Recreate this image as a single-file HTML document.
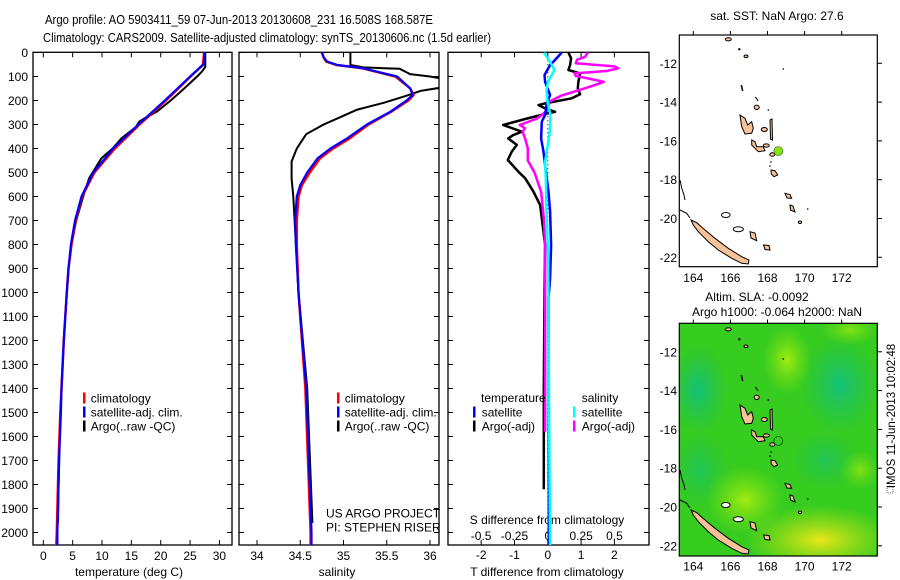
<!DOCTYPE html>
<html><head><meta charset="utf-8"><style>
html,body{margin:0;padding:0;background:#fff}
svg{display:block;font-family:"Liberation Sans",Arial,sans-serif}
text{fill:#000}
</style></head><body>
<svg id="fig" width="900" height="580" viewBox="0 0 900 580" xmlns="http://www.w3.org/2000/svg">
<defs>
<radialGradient id="gTeal" cx="0.5" cy="0.5" r="0.5"><stop offset="0" stop-color="#10c080" stop-opacity="0.95"/><stop offset="1" stop-color="#20c060" stop-opacity="0"/></radialGradient>
<radialGradient id="gLime" cx="0.5" cy="0.5" r="0.5"><stop offset="0" stop-color="#a8ee10" stop-opacity="0.95"/><stop offset="1" stop-color="#80e010" stop-opacity="0"/></radialGradient>
<radialGradient id="gYel" cx="0.5" cy="0.5" r="0.5"><stop offset="0" stop-color="#e8e818" stop-opacity="1"/><stop offset="1" stop-color="#c0e010" stop-opacity="0"/></radialGradient>
<clipPath id="map2clip"><rect x="679.3" y="323.3" width="198" height="232.7"/></clipPath>
<g id="islands">
<polygon points="691,220 696.7,222.7 705,230 715,238.3 728.3,248.3 741.7,256.7 749,260 748.3,264 741.7,263.3 731.7,258.3 718.3,250 708.3,241.7 698.3,231.7 693.3,225" fill="#f7c298" stroke="#000" stroke-width="1"/>
<polygon points="740,115 745,118.3 747.7,125 751.7,121.7 753.3,128.3 751.7,133.3 745,134 741.7,126.7" fill="#f7c298" stroke="#000" stroke-width="1"/>
<polygon points="751.7,140 755,141.7 756.7,146.7 763.3,146.7 765,150.7 758.3,151.7 755,148.3 751.7,145" fill="#f7c298" stroke="#000" stroke-width="1"/>
<polygon points="771,170 775,170.7 777.7,175 774,176.7 771.3,174" fill="#f7c298" stroke="#000" stroke-width="1"/>
<polygon points="785,193.3 790,194.5 791.7,198.3 787,198" fill="#f7c298" stroke="#000" stroke-width="1"/>
<polygon points="790,205 793,206 795,212 790.5,210" fill="#f7c298" stroke="#000" stroke-width="1"/>
<polygon points="750,231.7 755,233 756.7,240.7 751,238" fill="#f7c298" stroke="#000" stroke-width="1"/>
<polygon points="763.5,245 769,245.5 770,250 765,249.5" fill="#f7c298" stroke="#000" stroke-width="1"/>
<polygon points="770,120 772,119 772.5,140 770.5,139" fill="#f7c298" stroke="#000" stroke-width="1"/>
<ellipse cx="764.3" cy="129.5" rx="3" ry="2" fill="#f7c298" stroke="#000"/>
<ellipse cx="766.3" cy="145.5" rx="3" ry="1.6" fill="#f7c298" stroke="#000"/>
<ellipse cx="772.3" cy="154.5" rx="2.5" ry="1.8" fill="#f7c298" stroke="#000"/>
<ellipse cx="756.7" cy="107.3" rx="2.5" ry="2.2" fill="#f7c298" stroke="#000"/>
<ellipse cx="728.3" cy="39.3" rx="3" ry="1.6" fill="#f7c298" stroke="#000"/>
<ellipse cx="746" cy="56.3" rx="2" ry="1.3" fill="#f7c298" stroke="#000"/>
<ellipse cx="800" cy="222.3" rx="1.6" ry="1.3" fill="#f7c298" stroke="#000"/>
<ellipse cx="738.3" cy="229.2" rx="5" ry="2.5" fill="#fff" stroke="#000"/>
<ellipse cx="725.8" cy="215" rx="4.3" ry="2.5" fill="#fff" stroke="#000"/>
<line x1="741.3" y1="85" x2="742.7" y2="91" stroke="#000" stroke-width="1.5"/>
<polyline points="755,97 757,99 758,101" fill="none" stroke="#000"/>
<circle cx="768.3" cy="110" r="0.8" fill="#000"/><circle cx="783.3" cy="69" r="0.8" fill="#000"/>
<circle cx="739.3" cy="49.3" r="1.2" fill="#000"/><circle cx="807.7" cy="209" r="0.8" fill="#000"/>
<circle cx="771" cy="162" r="0.8" fill="#000"/><circle cx="770" cy="166" r="0.8" fill="#000"/>
<polyline points="680,180 681.7,188 684,195 685,200" fill="none" stroke="#000"/>
<polyline points="680,210 686.7,213.3 690,218" fill="none" stroke="#000"/>
</g>
</defs>

<text x="45" y="24" font-size="12.5" textLength="388" lengthAdjust="spacingAndGlyphs">Argo profile: AO 5903411_59 07-Jun-2013 20130608_231 16.508S 168.587E</text>
<text x="43" y="42" font-size="12.5" textLength="448" lengthAdjust="spacingAndGlyphs">Climatology: CARS2009. Satellite-adjusted climatology: synTS_20130606.nc (1.5d earlier)</text>

<g id="p1"></g>
<g id="p2"></g>
<g id="p3"></g>

<g font-size="12">
<rect x="83" y="392.5" width="2.5" height="11" fill="#f00"/><text x="90.7" y="402.5">climatology</text>
<rect x="83" y="406.5" width="2.5" height="11" fill="#00f"/><text x="90.7" y="416.5">satellite-adj. clim.</text>
<rect x="83" y="420.5" width="2.5" height="11" fill="#000"/><text x="90.7" y="430.5">Argo(..raw -QC)</text>
</g>
<g font-size="12">
<rect x="337" y="392.5" width="2.5" height="11" fill="#f00"/><text x="344.7" y="402.5">climatology</text>
<rect x="337" y="406.5" width="2.5" height="11" fill="#00f"/><text x="344.7" y="416.5">satellite-adj. clim.</text>
<rect x="337" y="420.5" width="2.5" height="11" fill="#000"/><text x="344.7" y="430.5">Argo(..raw -QC)</text>
<text x="326" y="517.5">US ARGO PROJECT</text>
<text x="326" y="531.5">PI: STEPHEN RISER</text>
</g>
<g font-size="12">
<text x="481" y="402">temperature</text><text x="581.7" y="402">salinity</text>
<rect x="473" y="406.5" width="2.5" height="11" fill="#00f"/><text x="481.7" y="416.5">satellite</text>
<rect x="473" y="420.5" width="2.5" height="11" fill="#000"/><text x="481.7" y="430.5">Argo(-adj)</text>
<rect x="573" y="406.5" width="2.5" height="11" fill="#0ff"/><text x="581.7" y="416.5">satellite</text>
<rect x="573" y="420.5" width="2.5" height="11" fill="#f0f"/><text x="581.7" y="430.5">Argo(-adj)</text>
</g>

<g>
<text x="777" y="20" font-size="12" text-anchor="middle">sat. SST: NaN Argo: 27.6</text>
<rect x="679.3" y="35" width="198" height="231.7" fill="#fff" stroke="#000" stroke-width="1.2"/>
<use href="#islands"/>
<circle cx="778.3" cy="151" r="4.5" fill="#88e01a" stroke="#226600" stroke-width="0.6"/>
<g id="m1axes"></g>
</g>

<g>
<text x="757" y="301" font-size="12" text-anchor="middle">Altim. SLA: -0.0092</text>
<text x="777" y="316" font-size="12" text-anchor="middle">Argo h1000: -0.064 h2000: NaN</text>
<g clip-path="url(#map2clip)">
<rect x="679.3" y="323.3" width="198" height="232.7" fill="#36cc20"/>
<ellipse cx="698" cy="390" rx="30" ry="45" fill="url(#gTeal)"/>
<ellipse cx="700" cy="470" rx="30" ry="40" fill="url(#gTeal)" opacity="0.6"/>
<ellipse cx="840" cy="385" rx="40" ry="50" fill="url(#gTeal)"/>
<ellipse cx="825" cy="460" rx="35" ry="30" fill="url(#gTeal)" opacity="0.6"/>
<ellipse cx="787" cy="360" rx="25" ry="35" fill="url(#gLime)"/>
<ellipse cx="745" cy="500" rx="40" ry="35" fill="url(#gLime)"/>
<ellipse cx="860" cy="470" rx="20" ry="20" fill="url(#gLime)" opacity="0.7"/>
<ellipse cx="820" cy="540" rx="75" ry="35" fill="url(#gYel)"/>
<ellipse cx="850" cy="330" rx="30" ry="15" fill="url(#gLime)" opacity="0.7"/>
<use href="#islands" transform="translate(0,290)"/>
<circle cx="778.3" cy="441" r="4.5" fill="none" stroke="#005500" stroke-width="0.8"/>
</g>
<rect x="679.3" y="323.3" width="198" height="232.7" fill="none" stroke="#000" stroke-width="1.2"/>
<g id="m2axes"></g>
<text transform="translate(895,416) rotate(-90)" font-size="11.5" text-anchor="middle">IMOS 11-Jun-2013 10:02:48</text>
<rect x="887" y="487" width="6" height="6" fill="none" stroke="#000" stroke-width="0.6" stroke-dasharray="1,1"/>
</g>

<script>
var tempDepth = [0,50,100,200,300,400,500,600,700,800,900,1000,1200,1400,1500,1700,2000,2060];
var tempSat   = [27.5,27.3,25.0,20.7,16.2,11.9,8.5,6.5,5.4,4.7,4.3,4.0,3.5,3.1,3.0,2.7,2.4,2.4];
var tempClim  = [27.4,27.2,25.1,20.9,16.4,12.2,8.7,6.6,5.5,4.8,4.3,4.0,3.5,3.1,2.9,2.6,2.3,2.2];
var argoTDepth = [0,60,80,100,150,200,247,275,289,310,358,400,441,524,600,700,800,900,1000,1200,1400,1600,1800,1960];
var argoTemp   = [27.6,27.6,27.0,26.2,24.0,21.7,19.3,17.2,16.3,15.8,13.3,11.8,9.9,7.8,6.8,5.6,4.8,4.3,4.0,3.5,3.1,2.8,2.6,2.5];

var salDepth = [0,20,38,52,66,100,149,177,200,247,300,358,400,441,500,552,600,700,802,1000,1400,2000,2060];
var salSat   = [34.75,34.77,34.81,34.93,35.23,35.62,35.77,35.80,35.73,35.54,35.27,35.04,34.85,34.70,34.58,34.50,34.46,34.44,34.45,34.48,34.57,34.63,34.63];
var salClim  = [34.75,34.77,34.80,34.92,35.22,35.60,35.77,35.81,35.75,35.55,35.29,35.07,34.88,34.73,34.61,34.52,34.48,34.46,34.46,34.48,34.56,34.62,34.62];
var argoSDepth = [0,52,62,68,90,100,110,145,160,180,210,238,270,300,340,400,454,526,600,800,1000,1400,1960];
var argoSal    = [35.08,35.08,35.23,35.65,35.77,36.0,36.15,36.15,35.89,35.73,35.46,35.16,34.96,34.77,34.57,34.46,34.40,34.40,34.42,34.45,34.48,34.58,34.64];

var dTDepth = [0,38,52,94,122,177,212,261,288,358,413,469,580,663,802,941,1024,1500,2060];
var dTSat   = [0.42,0.17,0.07,-0.10,-0.08,0.07,-0.03,-0.08,-0.18,-0.20,-0.13,-0.08,0.02,0.07,0.10,0.07,0.02,0.03,0.03];
var dTArgoDepth = [0,24,52,73,87,122,149,174,191,212,219,233,247,256,277,302,330,344,358,385,413,448,497,524,580,635,691,747,802,1000,1400,1820];
var dTArgo      = [0.62,0.70,0.67,0.62,0.97,0.92,0.90,0.97,0.72,-0.08,-0.28,-0.08,0.22,-0.08,-0.68,-1.34,-0.78,-1.04,-1.19,-0.93,-1.08,-1.20,-0.88,-0.68,-0.43,-0.23,-0.18,-0.13,-0.08,-0.10,-0.12,-0.12];
var dSDepth = [0,24,52,73,94,122,163,212,261,330,385,455,524,663,802,1024,1500,2060];
var dSSat   = [-0.03,0.0,0.03,0.05,0.03,0.0,-0.01,0.0,0.02,0.015,0.0,-0.02,-0.015,-0.01,0.0,0.005,0.01,0.017];
var dSArgoDepth = [0,18,30,45,58,66,77,87,98,108,122,140,163,180,205,240,275,302,316,330,358,400,450,500,580,690,800,1000,1300,1580];
var dSArgo      = [0.30,0.28,0.22,0.21,0.50,0.53,0.44,0.20,0.21,0.30,0.42,0.33,0.20,0.10,0.01,0.0,-0.08,-0.21,-0.17,-0.19,-0.17,-0.15,-0.15,-0.10,-0.05,-0.03,-0.02,-0.02,-0.02,-0.02];

var depthTicks = [0,100,200,300,400,500,600,700,800,900,1000,1100,1200,1300,1400,1500,1600,1700,1800,1900,2000];
var tempTicks = [0,5,10,15,20,25,30];
var salTicks = [34,34.5,35,35.5,36];
var salTickLabels = ["34","34.5","35","35.5","36"];
var dTTicks = [-2,-1,0,1,2];
var dSTicks = [-0.5,-0.25,0,0.25,0.5];
var dSTickLabels = ["-0.5","-0.25","0","0.25","0.5"];
var latTicks = [-12,-14,-16,-18,-20,-22];
var lonTicks = [164,166,168,170,172];

var TOP = 52.3, BOT = 545;
function yD(d){ return 52.5 + d*0.24; }
function xT(t){ return 43.3 + t*5.87; }
function xS(s){ return 257 + (s-34)*86.5; }
function xdT(t){ return 547.8 + t*33.3; }
function xdS(s){ return 547.8 + s*133.3; }
function xLon(l){ return 693.3 + (l-164)*18.55; }
function yLat1(l){ return 63.3 + (-12 - l)*19.4; }

var NS = "http://www.w3.org/2000/svg";
function mk(parent, tag, attrs){
  var e = document.createElementNS(NS, tag);
  for (var k in attrs) e.setAttribute(k, attrs[k]);
  parent.appendChild(e);
  return e;
}
function line(parent, depths, vals, xf, color, w, name, clipId){
  var pts = depths.map(function(d,i){ return xf(vals[i]).toFixed(1)+","+yD(d).toFixed(1); }).join(" ");
  var e = mk(parent, "polyline", {points:pts, fill:"none", stroke:color, "stroke-width":w, "stroke-linejoin":"round"});
  if (clipId) e.setAttribute("clip-path", "url(#"+clipId+")");
  
  
  return e;
}

function frame(g, x0, x1, id){
  var cp = mk(document.querySelector("defs"), "clipPath", {id:id});
  mk(cp, "rect", {x:x0, y:TOP, width:x1-x0, height:BOT-TOP});
  var r = mk(g, "rect", {x:x0, y:TOP, width:x1-x0, height:BOT-TOP, fill:"none", stroke:"#000", "stroke-width":1.3});
  
  
  depthTicks.forEach(function(d){
    var y = yD(d);
    mk(g, "line", {x1:x0, x2:x0+5, y1:y, y2:y, stroke:"#000"});
    mk(g, "line", {x1:x1-5, x2:x1, y1:y, y2:y, stroke:"#000"});
  });
}

var p1 = document.getElementById("p1");
frame(p1, 33, 232, "c1");
depthTicks.forEach(function(d){
  var t = mk(p1, "text", {x:28, y:yD(d)+4.5, "font-size":12, "text-anchor":"end"});
  t.textContent = d;
  
  
});
tempTicks.forEach(function(v){
  var x = xT(v);
  mk(p1, "line", {x1:x, x2:x, y1:TOP, y2:TOP+5, stroke:"#000"});
  mk(p1, "line", {x1:x, x2:x, y1:BOT-5, y2:BOT, stroke:"#000"});
  var t = mk(p1, "text", {x:x, y:560, "font-size":12, "text-anchor":"middle"});
  t.textContent = v;
  
  
});
var t1 = mk(p1, "text", {x:129, y:576, "font-size":12, "text-anchor":"middle"});
t1.textContent = "temperature (deg C)";


line(p1, argoTDepth, argoTemp, xT, "#000", 2, "argo-temperature-line", "c1");
line(p1, tempDepth, tempClim, xT, "#f00", 2.5, "climatology-temperature-line", "c1");
line(p1, tempDepth, tempSat, xT, "#00f", 2.2, "satellite-temperature-line", "c1");

var p2 = document.getElementById("p2");
frame(p2, 239, 439, "c2");
salTicks.forEach(function(v,i){
  var x = xS(v);
  mk(p2, "line", {x1:x, x2:x, y1:TOP, y2:TOP+5, stroke:"#000"});
  mk(p2, "line", {x1:x, x2:x, y1:BOT-5, y2:BOT, stroke:"#000"});
  var t = mk(p2, "text", {x:x, y:560, "font-size":12, "text-anchor":"middle"});
  t.textContent = salTickLabels[i];
  
  
});
var t2 = mk(p2, "text", {x:337, y:576, "font-size":12, "text-anchor":"middle"});
t2.textContent = "salinity";


line(p2, argoSDepth, argoSal, xS, "#000", 2, "argo-salinity-line", "c2");
line(p2, salDepth, salClim, xS, "#f00", 2.5, "climatology-salinity-line", "c2");
line(p2, salDepth, salSat, xS, "#00f", 2.2, "satellite-salinity-line", "c2");

var p3 = document.getElementById("p3");
frame(p3, 448, 649, "c3");
var zl = mk(p3, "line", {x1:xdT(0), x2:xdT(0), y1:TOP, y2:BOT, stroke:"#000", "stroke-width":1, "stroke-dasharray":"1,3"});


dTTicks.forEach(function(v){
  var x = xdT(v);
  mk(p3, "line", {x1:x, x2:x, y1:TOP, y2:TOP+5, stroke:"#000"});
  mk(p3, "line", {x1:x, x2:x, y1:BOT-5, y2:BOT, stroke:"#000"});
  var t = mk(p3, "text", {x:x, y:559, "font-size":12, "text-anchor":"middle"});
  t.textContent = v;
  
  
});
dSTicks.forEach(function(v,i){
  var t = mk(p3, "text", {x:xdS(v), y:540, "font-size":12, "text-anchor":"middle"});
  t.textContent = dSTickLabels[i];
  
  
});
var t3 = mk(p3, "text", {x:547, y:524, "font-size":12, "text-anchor":"middle"});
t3.textContent = "S difference from climatology";


var t4 = mk(p3, "text", {x:547, y:576, "font-size":12, "text-anchor":"middle"});
t4.textContent = "T difference from climatology";


line(p3, dTArgoDepth, dTArgo, xdT, "#000", 2.5, "argo-temperature-difference-line", "c3");
line(p3, dSArgoDepth, dSArgo, xdS, "#f0f", 2.5, "argo-salinity-difference-line", "c3");
line(p3, dTDepth, dTSat, xdT, "#00f", 2.5, "satellite-temperature-difference-line", "c3");
line(p3, dSDepth, dSSat, xdS, "#0ff", 2.5, "satellite-salinity-difference-line", "c3");

function mapAxes(g, dy, name){
  latTicks.forEach(function(l){
    var y = yLat1(l) + dy;
    mk(g, "line", {x1:877.3, x2:882, y1:y, y2:y, stroke:"#000"});
    var t = mk(g, "text", {x:677, y:y+4.5, "font-size":12, "text-anchor":"end"});
    t.textContent = l;
    
    
  });
  lonTicks.forEach(function(l){
    var x = xLon(l);
    mk(g, "line", {x1:x, x2:x, y1:35+dy-4, y2:35+dy, stroke:"#000"});
    var t = mk(g, "text", {x:x, y:282+dy, "font-size":12, "text-anchor":"middle"});
    t.textContent = l;
    
    
  });
}
mapAxes(document.getElementById("m1axes"), 0, "sst-map");
mapAxes(document.getElementById("m2axes"), 288.5, "sla-map");
</script>
</svg>
</body></html>
